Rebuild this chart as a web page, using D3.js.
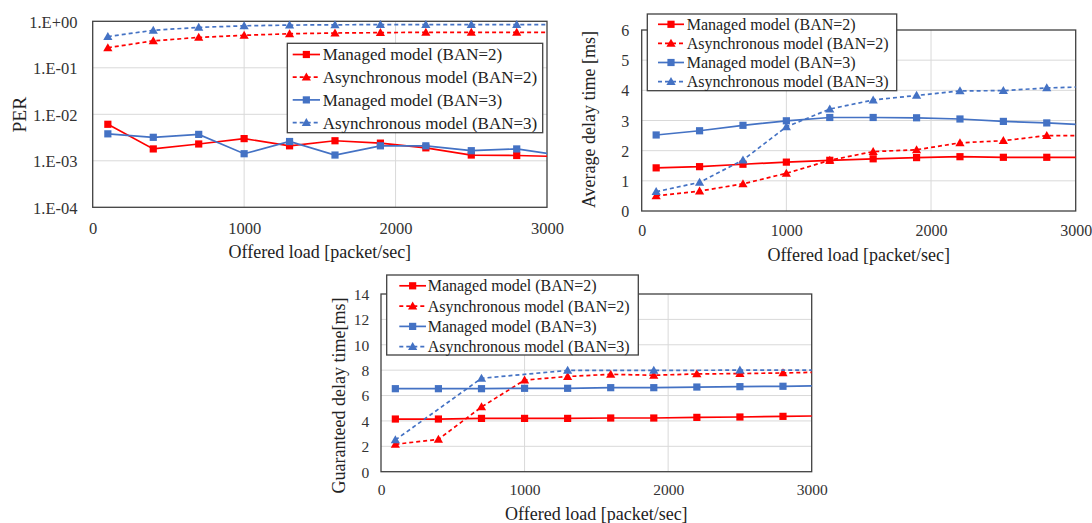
<!DOCTYPE html>
<html><head><meta charset="utf-8">
<script src="https://cdn.jsdelivr.net/npm/d3@7"></script>
<style>
body{margin:0;background:#fff;}
svg{display:block;font-family:"Liberation Serif","Times New Roman",serif;}
</style></head><body>
<svg id="c" width="1092" height="523"></svg>
<script>
// ---------- data ----------
const loads = [100, 400, 700, 1000, 1300, 1600, 1900, 2200, 2500, 2800, 3100];
const seriesNames = ["Managed model (BAN=2)", "Asynchronous model (BAN=2)", "Managed model (BAN=3)", "Asynchronous model (BAN=3)"];
const xTicks = [0, 1000, 2000, 3000];
const xTitle = "Offered load [packet/sec]";

// Chart 1: PER (log scale)
const perManaged2 = [0.0061, 0.0018, 0.0023, 0.0030, 0.0021, 0.0027, 0.0024, 0.0019, 0.00133, 0.0013, 0.00123];
const perAsync2   = [0.27, 0.38, 0.45, 0.50, 0.54, 0.56, 0.57, 0.58, 0.58, 0.58, 0.58];
const perManaged3 = [0.0038, 0.0032, 0.0037, 0.00142, 0.0026, 0.00133, 0.0021, 0.0021, 0.00165, 0.0018, 0.0013];
const perAsync3   = [0.47, 0.64, 0.74, 0.80, 0.83, 0.84, 0.85, 0.85, 0.85, 0.85, 0.85];
const perTicks = [1, 0.1, 0.01, 0.001, 0.0001];
const perTickLabels = ["1.E+00", "1.E-01", "1.E-02", "1.E-03", "1.E-04"];

// Chart 2: Average delay time [ms]
const avgManaged2 = [1.43, 1.47, 1.55, 1.62, 1.68, 1.73, 1.77, 1.80, 1.78, 1.78, 1.78];
const avgAsync2   = [0.50, 0.66, 0.90, 1.25, 1.68, 1.97, 2.03, 2.26, 2.33, 2.50, 2.50];
const avgManaged3 = [2.52, 2.66, 2.84, 2.99, 3.10, 3.10, 3.09, 3.05, 2.97, 2.92, 2.85];
const avgAsync3   = [0.64, 0.95, 1.69, 2.79, 3.38, 3.68, 3.83, 3.98, 3.99, 4.08, 4.12];
const avgTicks = [0, 1, 2, 3, 4, 5, 6];

// Chart 3: Guaranteed delay time [ms]
const gdManaged2 = [4.15, 4.15, 4.20, 4.20, 4.20, 4.23, 4.23, 4.28, 4.31, 4.36, 4.40];
const gdAsync2   = [2.16, 2.55, 5.10, 7.22, 7.50, 7.67, 7.60, 7.70, 7.73, 7.78, 7.85];
const gdManaged3 = [6.54, 6.54, 6.54, 6.57, 6.57, 6.62, 6.62, 6.67, 6.70, 6.73, 6.77];
const gdAsync3   = [2.50, null, 7.36, null, 7.98, null, 7.98, null, 8.00, null, 8.00];
const gdTicks = [0, 2, 4, 6, 8, 10, 12, 14];

// ---------- styles ----------
const RED = "#ff0000", BLUE = "#4472c4";
const seriesStyles = [
  {color: RED, dash: null, marker: "square"},
  {color: RED, dash: "4,3", marker: "triangle"},
  {color: BLUE, dash: null, marker: "square"},
  {color: BLUE, dash: "4,3", marker: "triangle"}
];
const svg = d3.select("#c");

function markerPath(type) {
  if (type === "square") return "M-3.6,-3.6H3.6V3.6H-3.6Z";
  return "M0,-4.6L4.6,3.4L-4.6,3.4Z";
}

let clipId = 0;
function drawChart(o) {
  const g = svg.append("g");
  const x = d3.scaleLinear().domain([0, 3000]).range([o.left, o.right]);
  const y = (o.log ? d3.scaleLog() : d3.scaleLinear()).domain(o.yDomain).range([o.bottom, o.top]);

  // grid
  g.append("g").selectAll("line.h").data(o.yTicks.filter(t => y(t) > o.top + 1 && y(t) < o.bottom - 1))
    .join("line").attr("x1", o.left).attr("x2", o.right)
    .attr("y1", d => y(d)).attr("y2", d => y(d))
    .attr("stroke", "#d9d9d9").attr("stroke-width", 1);
  g.append("g").selectAll("line.v").data(xTicks.filter(t => t > 0 && t < 3000))
    .join("line").attr("y1", o.top).attr("y2", o.bottom)
    .attr("x1", d => x(d)).attr("x2", d => x(d))
    .attr("stroke", "#d9d9d9").attr("stroke-width", 1);

  // axes (labels only)
  const ya = d3.axisLeft(y).tickValues(o.yTicks).tickSize(0).tickPadding(0)
    .tickFormat((d, i) => o.yTickLabels ? o.yTickLabels[i] : d);
  const yg = g.append("g").attr("transform", `translate(${o.yTickRight},0)`).call(ya);
  yg.select(".domain").remove();
  yg.selectAll("text").attr("font-family", "Liberation Serif").attr("font-size", o.tickSize).attr("fill", "#333").attr("dy", "0.35em");

  const xa = d3.axisBottom(x).tickValues(xTicks).tickSize(0).tickPadding(0).tickFormat(d3.format("d"));
  const xg = g.append("g").attr("transform", `translate(0,${o.xTickY})`).call(xa);
  xg.select(".domain").remove();
  xg.selectAll("text").attr("font-family", "Liberation Serif").attr("font-size", o.tickSize).attr("fill", "#333").attr("dy", "0.35em");

  // plot border
  g.append("rect").attr("x", o.left).attr("y", o.top).attr("width", o.right - o.left).attr("height", o.bottom - o.top)
    .attr("fill", "none").attr("stroke", "#404040").attr("stroke-width", 1.3);

  // clip
  const cid = "clip" + (clipId++);
  svg.append("clipPath").attr("id", cid).append("rect")
    .attr("x", o.left).attr("y", o.top - 10).attr("width", o.right - o.left).attr("height", o.bottom - o.top + 20);

  const line = d3.line().x(d => x(d[0])).y(d => y(d[1]));
  o.series.forEach((vals, si) => {
    const st = seriesStyles[si];
    const pts = loads.map((l, i) => [l, vals[i]]).filter(p => p[1] != null);
    g.append("path").attr("d", line(pts)).attr("fill", "none").attr("stroke", st.color)
      .attr("stroke-width", 1.7).attr("stroke-dasharray", st.dash).attr("clip-path", `url(#${cid})`);
    g.append("g").selectAll("path").data(pts.filter(p => p[0] <= 3000)).join("path")
      .attr("transform", d => `translate(${x(d[0])},${y(d[1])})`)
      .attr("d", markerPath(st.marker)).attr("fill", st.color);
  });

  // titles
  g.append("text").attr("x", (o.left + o.right) / 2).attr("y", o.xTitleY).attr("dy", "0.35em")
    .attr("text-anchor", "middle").attr("font-size", 18).attr("fill", "#222").text(xTitle);
  g.append("text").attr("transform", `translate(${o.yTitleX},${o.yTitleY}) rotate(-90)`).attr("dy", "0.35em")
    .attr("text-anchor", "middle").attr("font-size", o.yTitleSize).attr("fill", "#222").text(o.yTitle);

  // legend
  const L = o.legend;
  const lg = g.append("g");
  lg.append("rect").attr("x", L.x0).attr("y", L.y0).attr("width", L.x1 - L.x0).attr("height", L.y1 - L.y0)
    .attr("fill", "#fff").attr("stroke", "#404040").attr("stroke-width", 1.3);
  seriesNames.forEach((name, i) => {
    const st = seriesStyles[i];
    const ry = L.row0 + i * L.step;
    lg.append("line").attr("x1", L.s0).attr("x2", L.s1).attr("y1", ry).attr("y2", ry)
      .attr("stroke", st.color).attr("stroke-width", 1.7).attr("stroke-dasharray", st.dash);
    lg.append("path").attr("transform", `translate(${(L.s0 + L.s1) / 2},${ry})`).attr("d", markerPath(st.marker)).attr("fill", st.color);
    lg.append("text").attr("x", L.tx).attr("y", ry).attr("dy", "0.35em").attr("font-size", L.fs).attr("fill", "#222").text(name);
  });
}

drawChart({
  left: 92.7, right: 547, top: 21.3, bottom: 207.3, log: true, yDomain: [0.0001, 1],
  yTicks: perTicks, yTickLabels: perTickLabels, tickSize: 16.5, yTickRight: 77.5, xTickY: 228.3,
  series: [perManaged2, perAsync2, perManaged3, perAsync3],
  xTitleY: 251.7, yTitle: "PER", yTitleX: 19, yTitleY: 114.7, yTitleSize: 19.5,
  legend: {x0: 287.3, x1: 542.7, y0: 43.3, y1: 132.7, row0: 54.5, step: 22.7, s0: 292.7, s1: 320, tx: 322.7, fs: 17}
});

drawChart({
  left: 641.7, right: 1075.7, top: 30, bottom: 211, log: false, yDomain: [0, 6],
  yTicks: avgTicks, tickSize: 16, yTickRight: 629.3, xTickY: 230,
  series: [avgManaged2, avgAsync2, avgManaged3, avgAsync3],
  xTitleY: 255, yTitle: "Average delay time [ms]", yTitleX: 588.3, yTitleY: 119.5, yTitleSize: 18,
  legend: {x0: 647.3, x1: 896.7, y0: 14, y1: 90.7, row0: 24.3, step: 19.1, s0: 658, s1: 684, tx: 686.7, fs: 16}
});

drawChart({
  left: 381, right: 811.7, top: 294, bottom: 471.7, log: false, yDomain: [0, 14],
  yTicks: gdTicks, tickSize: 15.5, yTickRight: 369.3, xTickY: 490,
  series: [gdManaged2, gdAsync2, gdManaged3, gdAsync3],
  xTitleY: 513.3, yTitle: "Guaranteed delay time[ms]", yTitleX: 338.3, yTitleY: 395.5, yTitleSize: 18,
  legend: {x0: 386.7, x1: 638.3, y0: 275, y1: 355, row0: 285.8, step: 20.3, s0: 399.3, s1: 426, tx: 427.7, fs: 16}
});
</script>
</body></html>
